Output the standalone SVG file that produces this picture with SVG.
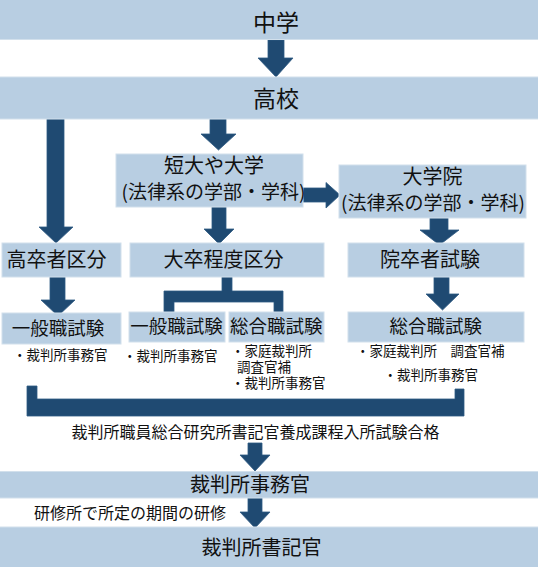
<svg xmlns="http://www.w3.org/2000/svg" width="538" height="567" viewBox="0 0 538 567">
<style>
.box{fill:#b8cee2;stroke:#d2e0ec;stroke-width:1}
.arr{fill:#1f4a72;stroke:#2f5a83;stroke-width:0.8}
text{font-family:"Noto Sans CJK JP","Noto Sans CJK SC",sans-serif;fill:#111}
.t1{font-size:23px;text-anchor:middle}
.t2{font-size:20px;text-anchor:middle}
.t2b{font-size:19px;text-anchor:middle}
.t3{font-size:18.5px;text-anchor:middle}
.s{font-size:13.5px}
.c{font-size:16px}
</style>
<rect width="538" height="567" fill="#ffffff"/>
<g id="connectors">
<polygon class="arr" points="268,40 284,40 284,58 293,58 276,77 258,58 268,58"/>
<polygon class="arr" points="47,119 64,119 64,227 73,227 56,243 39,227 47,227"/>
<polygon class="arr" points="210,119 226,119 226,134 236,134 218.5,150 201,134 210,134"/>
<polygon class="arr" points="303,188 326,188 326,182.5 340,195 326,208 326,202 303,202"/>
<polygon class="arr" points="212,207 226,207 226,229 234,229 219,244 204,229 212,229"/>
<polygon class="arr" points="430,218 448,218 448,230 459,230 439.5,245 420,230 430,230"/>
<polygon class="arr" points="50,277 65,277 65,300 75,300 58,316 41,300 50,300"/>
<polygon class="arr" points="222,277 232,277 232,291 283,291 283,313 274,313 274,302 174,302 174,313 164,313 164,291 222,291"/>
<polygon class="arr" points="434,277 449,277 449,294 459,294 442.5,310 426,294 434,294"/>
<polygon class="arr" points="27,386 37,386 37,399 455,399 455,389 464,389 464,416 27,416"/>
<polygon class="arr" points="248,443 262,443 262,455 270,455 255,471 240,455 248,455"/>
<polygon class="arr" points="248,498 262,498 262,512 270,512 255,528 240,512 248,512"/>
</g>
<g id="n-chugaku">
<rect class="box" x="-1" y="-1" width="540" height="40.5"/>
<text class="t1" x="276" y="31">中学</text>
</g>
<g id="n-koukou">
<rect class="box" x="-1" y="77" width="540" height="42"/>
<text class="t1" x="276" y="107">高校</text>
</g>
<g id="n-tandai">
<rect class="box" x="116" y="154" width="187" height="53"/>
<text class="t2" x="214" y="173">短大や大学</text>
<text class="t2b" x="213.5" y="199">(法律系の学部・学科)</text>
</g>
<g id="n-daigakuin">
<rect class="box" x="339" y="165" width="187" height="53"/>
<text class="t2" x="432.5" y="184">大学院</text>
<text class="t2b" x="433" y="210">(法律系の学部・学科)</text>
</g>
<g id="n-kousotsu">
<rect class="box" x="2" y="243" width="119" height="34"/>
<text class="t2" x="56.5" y="267">高卒者区分</text>
</g>
<g id="n-daisotsu">
<rect class="box" x="130" y="243" width="194" height="34"/>
<text class="t2" x="223.5" y="267">大卒程度区分</text>
</g>
<g id="n-insotsu">
<rect class="box" x="348" y="243" width="176" height="34"/>
<text class="t2" x="430" y="267">院卒者試験</text>
</g>
<g id="n-ippan1">
<rect class="box" x="2" y="313" width="119" height="31"/>
<text class="t3" x="58" y="335">一般職試験</text>
<text class="s" x="13" y="360">・裁判所事務官</text>
</g>
<g id="n-ippan2">
<rect class="box" x="129" y="312" width="96" height="30"/>
<text class="t3" x="176.5" y="333">一般職試験</text>
<text class="s" x="123" y="361">・裁判所事務官</text>
</g>
<g id="n-sougou1">
<rect class="box" x="229" y="312" width="95" height="30"/>
<text class="t3" x="276.3" y="333">総合職試験</text>
<text class="s" x="231" y="356">・家庭裁判所</text>
<text class="s" x="237" y="372">調査官補</text>
<text class="s" x="231" y="388">・裁判所事務官</text>
</g>
<g id="n-sougou2">
<rect class="box" x="348" y="312" width="176" height="30"/>
<text class="t3" x="435.7" y="333">総合職試験</text>
<text class="s" x="356" y="356">・家庭裁判所　調査官補</text>
<text class="s" x="383.5" y="380">・裁判所事務官</text>
</g>
<g id="n-goukaku">
<text class="c" x="255.5" y="438" text-anchor="middle">裁判所職員総合研究所書記官養成課程入所試験合格</text>
</g>
<g id="n-jimukan">
<rect class="box" x="-1" y="471.5" width="540" height="26.5"/>
<text class="t2" x="250" y="492">裁判所事務官</text>
</g>
<g id="n-kenshu">
<text class="c" x="34" y="519">研修所で所定の期間の研修</text>
</g>
<g id="n-shokikan">
<rect class="box" x="-1" y="527" width="540" height="41"/>
<text class="t2" x="261.5" y="555">裁判所書記官</text>
</g>
</svg>
